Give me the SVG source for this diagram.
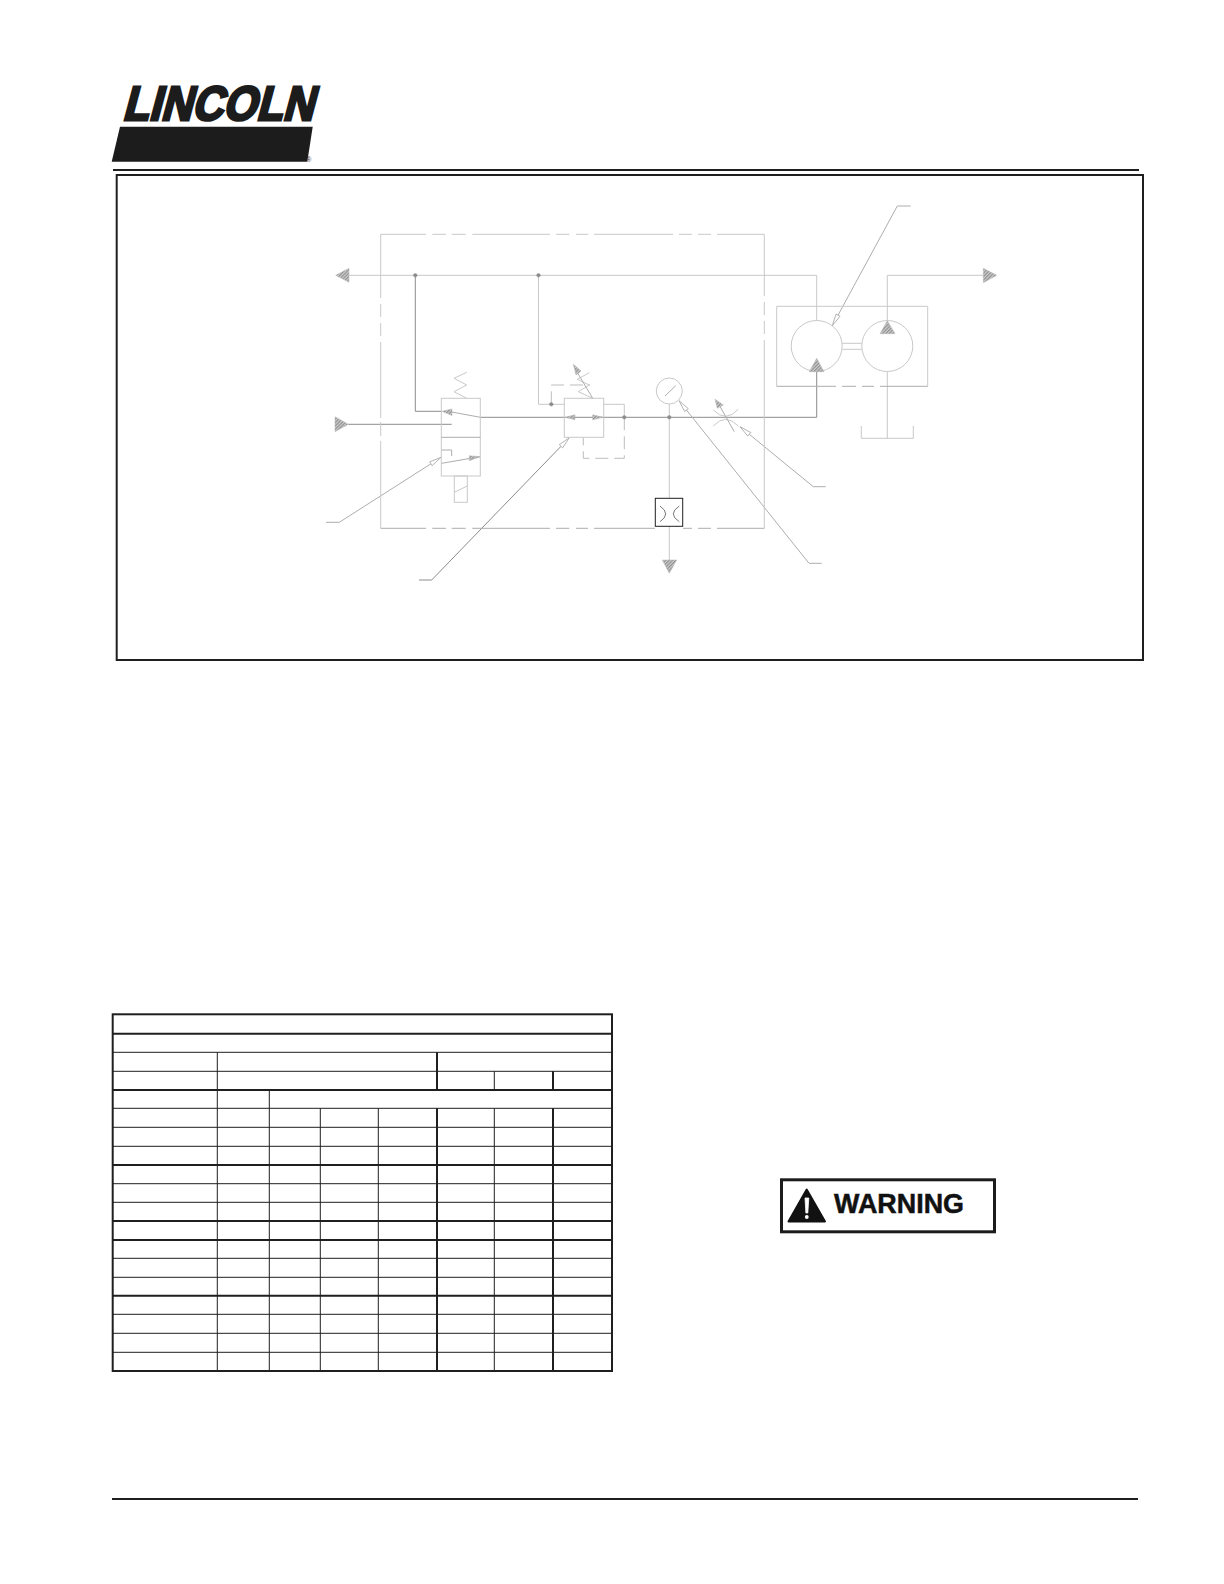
<svg xmlns="http://www.w3.org/2000/svg" width="1224" height="1584" viewBox="0 0 1224 1584">
<style>
.l{fill:none;stroke:#c9c9c9;stroke-width:1}
.d{fill:none;stroke:#8c8c8c;stroke-width:1}
.m{fill:none;stroke:#adadad;stroke-width:1}
.da{fill:none;stroke:#bdbdbd;stroke-width:1;stroke-dasharray:13 6}
.k{fill:none;stroke:#1f1f1f}
.h{fill:url(#hatch);stroke:#b4b4b4;stroke-width:.5}
.o{fill:#fff;stroke:#a0a0a0;stroke-width:.8}
.j{fill:#8a8a8a;stroke:#999;stroke-width:.6}
.t1{stroke-width:1}
.t2{stroke-width:2}
</style>
<defs>
<pattern id="hatch" width="2.4" height="2.4" patternUnits="userSpaceOnUse" patternTransform="rotate(45)">
<rect width="2.4" height="2.4" fill="#cfcfcf"/><rect width="1.2" height="2.4" fill="#8f8f8f"/>
</pattern>
</defs>
<rect width="1224" height="1584" fill="#fff"/>

<g id="logo">
<text transform="translate(122 120) skewX(-15)" font-family="'Liberation Sans',Arial,sans-serif" font-weight="700" font-size="48" textLength="191" lengthAdjust="spacingAndGlyphs" fill="#1c1c1c" stroke="#1c1c1c" stroke-width="2.8" stroke-linejoin="miter">LINCOLN</text>
<polygon points="120,126.7 312.7,126.7 307.3,161.7 111.7,161.7" fill="#1c1c1c"/>
<text x="306.5" y="161.5" font-family="'Liberation Sans',Arial,sans-serif" font-size="6.5" fill="#333">®</text>
</g>

<g id="page-rules">
<line class="k" x1="113" y1="170" x2="1139" y2="170" stroke-width="2"/>
<line class="k" x1="112" y1="1499" x2="1138" y2="1499" stroke-width="2"/>
<rect id="frame" class="k" x="116.7" y="175" width="1026.3" height="485" stroke-width="2"/>
</g>

<g id="connectors">
<path class="l" d="M349 275.3H816.7V320.5"/>
<path class="d" d="M415.3 275.3V411.3H441.5"/>
<path class="l" d="M538.5 275.3V404.3H564.3"/>
<path class="d" d="M348.3 424.3H451.7"/>
<path class="m" d="M450 411.7L480.3 417.3"/>
<path class="d" d="M480.3 417.3H816.7V371.5"/>
<path class="l" d="M603.7 404.3H624.3V417.3"/>
<path class="da" d="M624.3 417.3V458.3H583.3V437.3"/>
<path class="da" d="M551.3 404.3V385H590"/>
<path class="l" d="M669.3 404V498.3M669.3 526.3V560"/>
<path class="l" d="M887.3 320.7V275.3H983.3"/>
<path class="l" d="M887.3 371.5V438.3"/>
<path class="l" d="M861.3 426V438.3H913.3V426"/>
<path class="l" d="M842.3 343.3H861.7M842.3 349.3H861.7"/>
<path class="m" d="M326 522.3H339.3L430.9 463.8"/>
<path class="d" d="M419 580H431.7L561 446.3"/>
<path class="m" d="M825.7 486.7H813.3L749.3 434.3"/>
<path class="m" d="M821.7 563.3H809L686.5 410.1"/>
<path class="m" d="M910.7 206H897.3L838 315.2"/>
<polygon class="o" points="441,457.3 429.7,461.9 432.1,465.7"/>
<polygon class="o" points="569.3,437.7 559.3,444.7 562.6,447.9"/>
<polygon class="o" points="740,426.7 750.8,432.5 747.8,436.1"/>
<polygon class="o" points="679,400.7 688.3,408.7 684.7,411.5"/>
<polygon class="o" points="832.3,325.7 840,316.3 836,314.1"/>
</g>

<g id="enclosure">
<path class="l" d="M426 234.3H380.7V298M380.7 304V317M380.7 323V336M380.7 342V418M380.7 422V436M380.7 441V528.3M432.3 234.3H446M451.7 234.3H465.7M472.3 234.3H550M556 234.3H569.3M576 234.3H588.3M594 234.3H673M679 234.3H692M698 234.3H711M717 234.3H764.3V296M764.3 302V315M764.3 321V334M764.3 340V528.3"/>
<path class="m" d="M764.3 528.3H717M711 528.3H698M692 528.3H683M655 528.3H594M588 528.3H576M569.3 528.3H556M550 528.3H472.3M465.7 528.3H451.7M446 528.3H432.3M426 528.3H380.7"/>
</g>

<g id="motor-box">
<path class="l" d="M776.7 386.3V306.3H927.7V386.3"/>
<path class="m" d="M927.7 386.3H880M874 386.3H862M856 386.3H842M836 386.3H776.7"/>
</g>

<g id="air-inlet"><polygon class="h" points="335,416.7 335,431.7 348.3,424.3"/></g>
<g id="outlet-left"><polygon class="h" points="335.7,275.3 349,268.3 349,282.3"/></g>
<g id="outlet-right"><polygon class="h" points="983.3,268.3 983.3,282.7 996.7,275.3"/></g>
<g id="exhaust"><polygon class="h" points="662.3,560 676.7,560 669.3,573.3"/></g>

<g id="junctions">
<circle class="j" cx="415.3" cy="275.3" r="1.8"/>
<circle class="j" cx="538.5" cy="275.3" r="1.8"/>
<circle class="j" cx="551.3" cy="404.3" r="1.8"/>
<circle class="j" cx="624.3" cy="417.3" r="1.8"/>
<circle class="j" cx="669.3" cy="417.3" r="1.8"/>
</g>

<g id="solenoid-valve">
<rect class="l" x="441.3" y="398.3" width="39" height="77.7"/>
<line class="m" x1="441.3" y1="437.3" x2="480.3" y2="437.3"/>
<path class="l" d="M466.7 372.3L454 378.3L466.7 385L454 391.7L466.7 398.3"/>
<polygon class="h" points="441.8,411.3 452,409 452,415.5"/>
<path class="m" d="M441.7 450H451.7V456"/>
<path class="m" d="M441.7 463.3L480 456.7"/>
<polygon class="h" points="469.3,455.7 469.3,460.7 480,456.7"/>
<rect class="l" x="454.3" y="476" width="13" height="26.3"/>
<line class="l" x1="454.3" y1="492.3" x2="467.3" y2="486"/>
</g>

<g id="regulator">
<rect class="l" x="564.3" y="398.3" width="39.4" height="39"/>
<polygon class="h" points="565,417.3 575,414.8 575,419.8"/>
<polygon class="h" points="603.3,417.3 592.7,414.8 592.7,419.8"/>
<path class="l" d="M589.3 372.7L577.3 379.3L589.3 385L578.3 391.7L592.7 398.3"/>
<line class="m" x1="592.7" y1="398.3" x2="577" y2="372"/>
<polygon class="h" points="573.3,364.3 576,375 581,371"/>
</g>

<g id="gauge">
<circle class="l" cx="669.3" cy="391" r="13"/>
<line class="m" x1="665" y1="396" x2="675.7" y2="385.7"/>
</g>

<g id="orifice">
<rect class="k t1" x="655.3" y="498.3" width="27.4" height="28"/>
<path d="M660 506Q671.4 514 660 521.7M679.3 506Q667.3 514 679.3 521.7" fill="none" stroke="#555" stroke-width=".8"/>
</g>

<g id="flow-control">
<path class="l" d="M713.3 410Q725.7 423 738.3 409.3M713.3 426Q725.7 412.7 738.3 426"/>
<line class="m" x1="734.3" y1="431.7" x2="718" y2="403"/>
<polygon class="h" points="715,399.3 717.3,408.3 723.3,405"/>
</g>

<g id="motor">
<circle class="l" cx="816.7" cy="346" r="25.5"/>
<polygon class="h" points="809.3,371.7 824,371.7 816.7,358.3"/>
</g>
<g id="pump">
<circle class="l" cx="887.3" cy="346" r="25.5"/>
<polygon class="h" points="880,333.7 895,333.7 887.3,320.7"/>
</g>

<g id="data-table">
<g class="k t1">
<path d="M112.7 1052.3H612M112.7 1071.3H612M112.7 1108.3H612M112.7 1127.3H612M112.7 1146.3H612M112.7 1183.7H612M112.7 1202.3H612M112.7 1258.3H612M112.7 1277.3H612M112.7 1314.3H612M112.7 1333.3H612M112.7 1352.3H612"/>
<path d="M217.3 1052.3V1371M269.3 1090V1371M320.3 1108.3V1371M378.3 1108.3V1371M494.3 1071.3V1090M494.3 1108.3V1371"/>
</g>
<g class="k t2">
<path d="M112.7 1033.7H612M112.7 1090H612M112.7 1165H612M112.7 1221H612M112.7 1240H612M112.7 1295.7H612"/>
<path d="M437 1052.3V1090M437 1108.3V1371M553 1071.3V1090M553 1108.3V1371"/>
<rect x="112.7" y="1014.3" width="499.3" height="356.7"/>
</g>
</g>

<g id="warning">
<rect x="781.5" y="1179.8" width="213" height="52" fill="#fff" stroke="#1c1c1c" stroke-width="3"/>
<polygon points="806.7,1189.5 825,1221.5 788.5,1221.5" fill="#111" stroke="#111" stroke-width="2" stroke-linejoin="round"/>
<path d="M805 1198H808.8L807.8 1213H805.9Z" fill="#fff" stroke="#fff" stroke-width=".8" stroke-linejoin="round"/>
<circle cx="806.8" cy="1217" r="1.9" fill="#fff"/>
<text x="834" y="1213.3" font-family="'Liberation Sans',Arial,sans-serif" font-weight="700" font-size="27.5" textLength="130" lengthAdjust="spacingAndGlyphs" fill="#111" stroke="#111" stroke-width=".5">WARNING</text>
</g>
</svg>
